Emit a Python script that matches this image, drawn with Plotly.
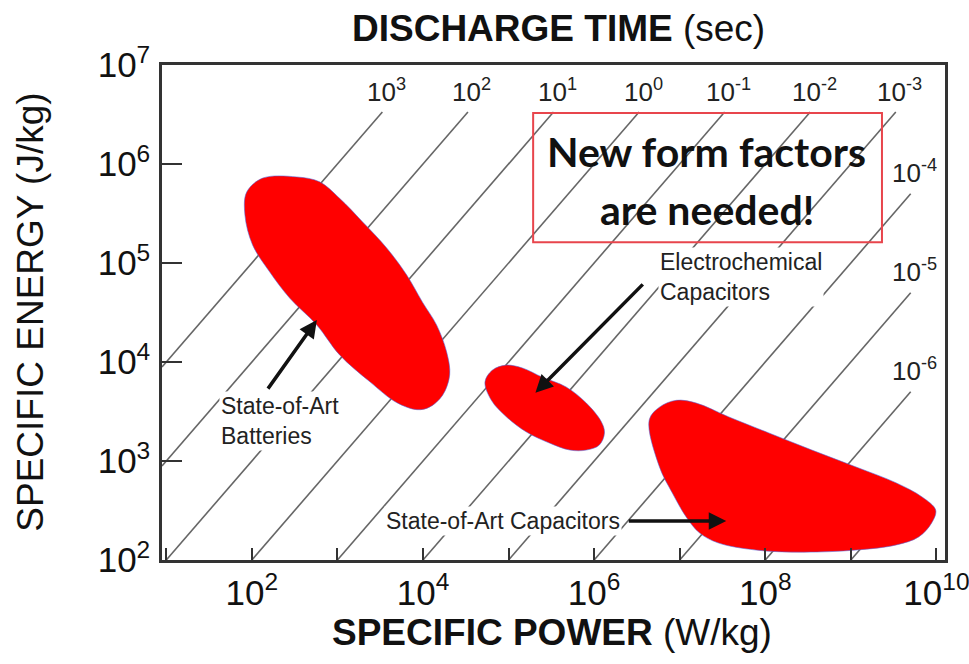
import numpy as np
import plotly.graph_objects as go

# ---------------- data ----------------
x_tick_vals = [1e1, 1e2, 1e3, 1e4, 1e5, 1e6, 1e7, 1e8, 1e9, 1e10]
x_tick_text = ["", "10<sup>2</sup>", "", "10<sup>4</sup>", "", "10<sup>6</sup>", "",
               "10<sup>8</sup>", "", "10<sup>10</sup>"]
y_tick_vals = [1e2, 1e3, 1e4, 1e5, 1e6, 1e7]
y_tick_text = ["10<sup>2</sup>", "10<sup>3</sup>", "10<sup>4</sup>", "10<sup>5</sup>",
               "10<sup>6</sup>", "10<sup>7</sup>"]

discharge_times = [1e3, 1e2, 1e1, 1e0, 1e-1, 1e-2, 1e-3, 1e-4, 1e-5, 1e-6, 1e-7]
discharge_labels = ["10<sup>3</sup>", "10<sup>2</sup>", "10<sup>1</sup>", "10<sup>0</sup>",
                    "10<sup>-1</sup>", "10<sup>-2</sup>", "10<sup>-3</sup>", "10<sup>-4</sup>",
                    "10<sup>-5</sup>", "10<sup>-6</sup>", ""]

battery_power = [87, 134, 335, 620, 1060, 1970, 3760, 6430, 9900, 14400, 18900, 20500,
                 16900, 11900, 8500, 4900, 2400, 1060, 573, 278, 162, 102, 83]
battery_energy = [5.2e5, 7.2e5, 7.4e5, 6.6e5, 4.5e5, 2.6e5, 1.42e5, 7.6e4, 4.0e4, 2.37e4,
                  1.26e4, 7.4e3, 4.6e3, 3.5e3, 3.3e3, 3.9e3, 6.3e3, 1.18e4, 2.37e4, 4.4e4,
                  8.1e4, 1.52e5, 3.05e5]

ec_power = [5.3e4, 6.5e4, 9.4e4, 1.45e5, 2.5e5, 4.7e5, 8.1e5, 1.21e6, 1.32e6, 1.15e6,
            8.1e5, 5.2e5, 3.0e5, 1.62e5, 9.4e4, 6.3e4]
ec_energy = [6.3e3, 8.3e3, 9.3e3, 8.7e3, 7.0e3, 5.6e3, 3.85e3, 2.5e3, 1.92e3, 1.45e3,
             1.29e3, 1.29e3, 1.52e3, 1.96e3, 2.8e3, 4.1e3]

cap_power = [4.4e6, 5.8e6, 9.1e6, 1.56e7, 3.7e7, 1.1e8, 3.5e8, 1.15e9, 3.4e9, 6.8e9,
             9.8e9, 8.8e9, 6.2e9, 3.4e9, 1.15e9, 2.7e8, 7.8e7, 2.8e7, 1.7e7, 1.19e7,
             8.2e6, 5.8e6]
cap_energy = [2.6e3, 3.5e3, 4.1e3, 3.85e3, 2.8e3, 1.92e3, 1.29e3, 870, 600, 433,
              320, 237, 171, 142, 126, 120, 126, 149, 188, 272, 475, 870]

label_texts = ["State-of-Art<br>Batteries", "Electrochemical<br>Capacitors",
               "State-of-Art Capacitors"]
label_power = [213, 5.5e6, 2.1e6]
label_energy = [2.54e3, 7.2e4, 248]

arrow_tail_power = [150, 3.85e6, 2.44e6]
arrow_tail_energy = [5.2e3, 6.3e4, 248]
arrow_head_power = [575, 2.06e5, 3.5e7]
arrow_head_energy = [2.65e4, 4.9e3, 248]

box_lines = ["New form factors", "are needed!"]

# ---------------- figure ----------------
X_MIN, X_MAX = 0.95, 10.1
P_MIN, E_MIN = 10 ** X_MIN, 1e2
E_TOP, P_RIGHT = 3.35e6, 5e9

fig = go.Figure()

# discharge-time diagonals
lx, ly = [], []
for t in discharge_times:
    p0 = max(P_MIN, E_MIN / t)
    p1 = min(E_TOP / t, P_RIGHT)
    lx += [p0, p1, None]
    ly += [t * p0, t * p1, None]
fig.add_trace(go.Scatter(x=lx, y=ly, mode="lines", line=dict(color="#666666", width=1.6),
                         hoverinfo="skip", showlegend=False))

# red regions
for px, py in [(battery_power, battery_energy), (ec_power, ec_energy), (cap_power, cap_energy)]:
    fig.add_trace(go.Scatter(x=px + [px[0]], y=py + [py[0]], mode="lines", fill="toself",
                             fillcolor="#ff0000",
                             line=dict(color="rgba(80,100,220,0.7)", width=0.8, shape="spline",
                                       smoothing=1.0),
                             hoverinfo="skip", showlegend=False))

ann = []
# discharge labels
for t, lab in zip(discharge_times, discharge_labels):
    if not lab:
        continue
    p1 = min(E_TOP / t, P_RIGHT)
    ann.append(dict(x=np.log10(p1), y=np.log10(t * p1), xref="x", yref="y", text=lab,
                    showarrow=False, xshift=4, yshift=22, xanchor="center", yanchor="middle",
                    font=dict(family="Liberation Sans", size=26, color="#222")))

# region labels
anchors = ["center", "left", "right"]
for txt, p, e, xa in zip(label_texts, label_power, label_energy, anchors):
    ann.append(dict(x=np.log10(p), y=np.log10(e), xref="x", yref="y", text=txt,
                    showarrow=False, xanchor=xa, yanchor="middle", align="left",
                    bgcolor="white", borderpad=1,
                    font=dict(family="Liberation Sans", size=23, color="#222")))

# arrows
for tp, te, hp, he in zip(arrow_tail_power, arrow_tail_energy, arrow_head_power, arrow_head_energy):
    ann.append(dict(x=np.log10(hp), y=np.log10(he), ax=np.log10(tp), ay=np.log10(te),
                    xref="x", yref="y", axref="x", ayref="y", text="", showarrow=True,
                    arrowhead=2, arrowsize=1.0, arrowwidth=3.5, arrowcolor="#111", standoff=0))

# box text
for i, line in enumerate(box_lines):
    ann.append(dict(x=0.696, y=[0.826, 0.709][i], xref="paper", yref="paper", text=f"<b>{line}</b>",
                    showarrow=False, xanchor="center", yanchor="middle",
                    font=dict(family="Lato", size=41, color="#111")))

# titles
ann.append(dict(x=0.506, y=1.0747, xref="paper", yref="paper", xanchor="center", yanchor="middle",
                text="<b>DISCHARGE TIME</b> (sec)", showarrow=False,
                font=dict(family="Liberation Sans", size=37, color="#111")))
ann.append(dict(x=0.498, y=-0.147, xref="paper", yref="paper", xanchor="center", yanchor="middle",
                text="<b>SPECIFIC POWER</b> (W/kg)", showarrow=False,
                font=dict(family="Liberation Sans", size=37, color="#111")))
ann.append(dict(x=-0.169, y=0.501, xref="paper", yref="paper", xanchor="center", yanchor="middle",
                textangle=-90, text="SPECIFIC ENERGY (J/kg)", showarrow=False,
                font=dict(family="Liberation Sans", size=37, color="#111")))

fig.update_layout(
    width=969, height=664,
    margin=dict(l=162, r=24, t=65, b=104),
    paper_bgcolor="white", plot_bgcolor="white",
    annotations=ann,
    shapes=[dict(type="rect", xref="paper", yref="paper", x0=0.474, x1=0.9195, y0=0.642, y1=0.903,
                 line=dict(color="#e8454c", width=2), fillcolor="rgba(0,0,0,0)")],
    font=dict(family="Liberation Sans"),
)
fig.update_xaxes(type="log", range=[X_MIN, X_MAX], tickvals=x_tick_vals, ticktext=x_tick_text,
                 ticks="inside", ticklen=12, tickwidth=2, tickcolor="#333",
                 showline=True, linecolor="#333", linewidth=2.5, mirror=True,
                 showgrid=False, zeroline=False, ticklabelstandoff=0, automargin=False,
                 ticklabeloverflow="allow",
                 tickfont=dict(family="Liberation Sans", size=35, color="#111"))
fig.update_yaxes(type="log", range=[2, 7], tickvals=y_tick_vals, ticktext=y_tick_text,
                 ticks="inside", ticklen=20, tickwidth=2, tickcolor="#333",
                 showline=True, linecolor="#333", linewidth=2.5, mirror=True,
                 showgrid=False, zeroline=False, ticklabelstandoff=2, automargin=False,
                 ticklabeloverflow="allow",
                 tickfont=dict(family="Liberation Sans", size=35, color="#111"))

fig.write_html("out.html")
